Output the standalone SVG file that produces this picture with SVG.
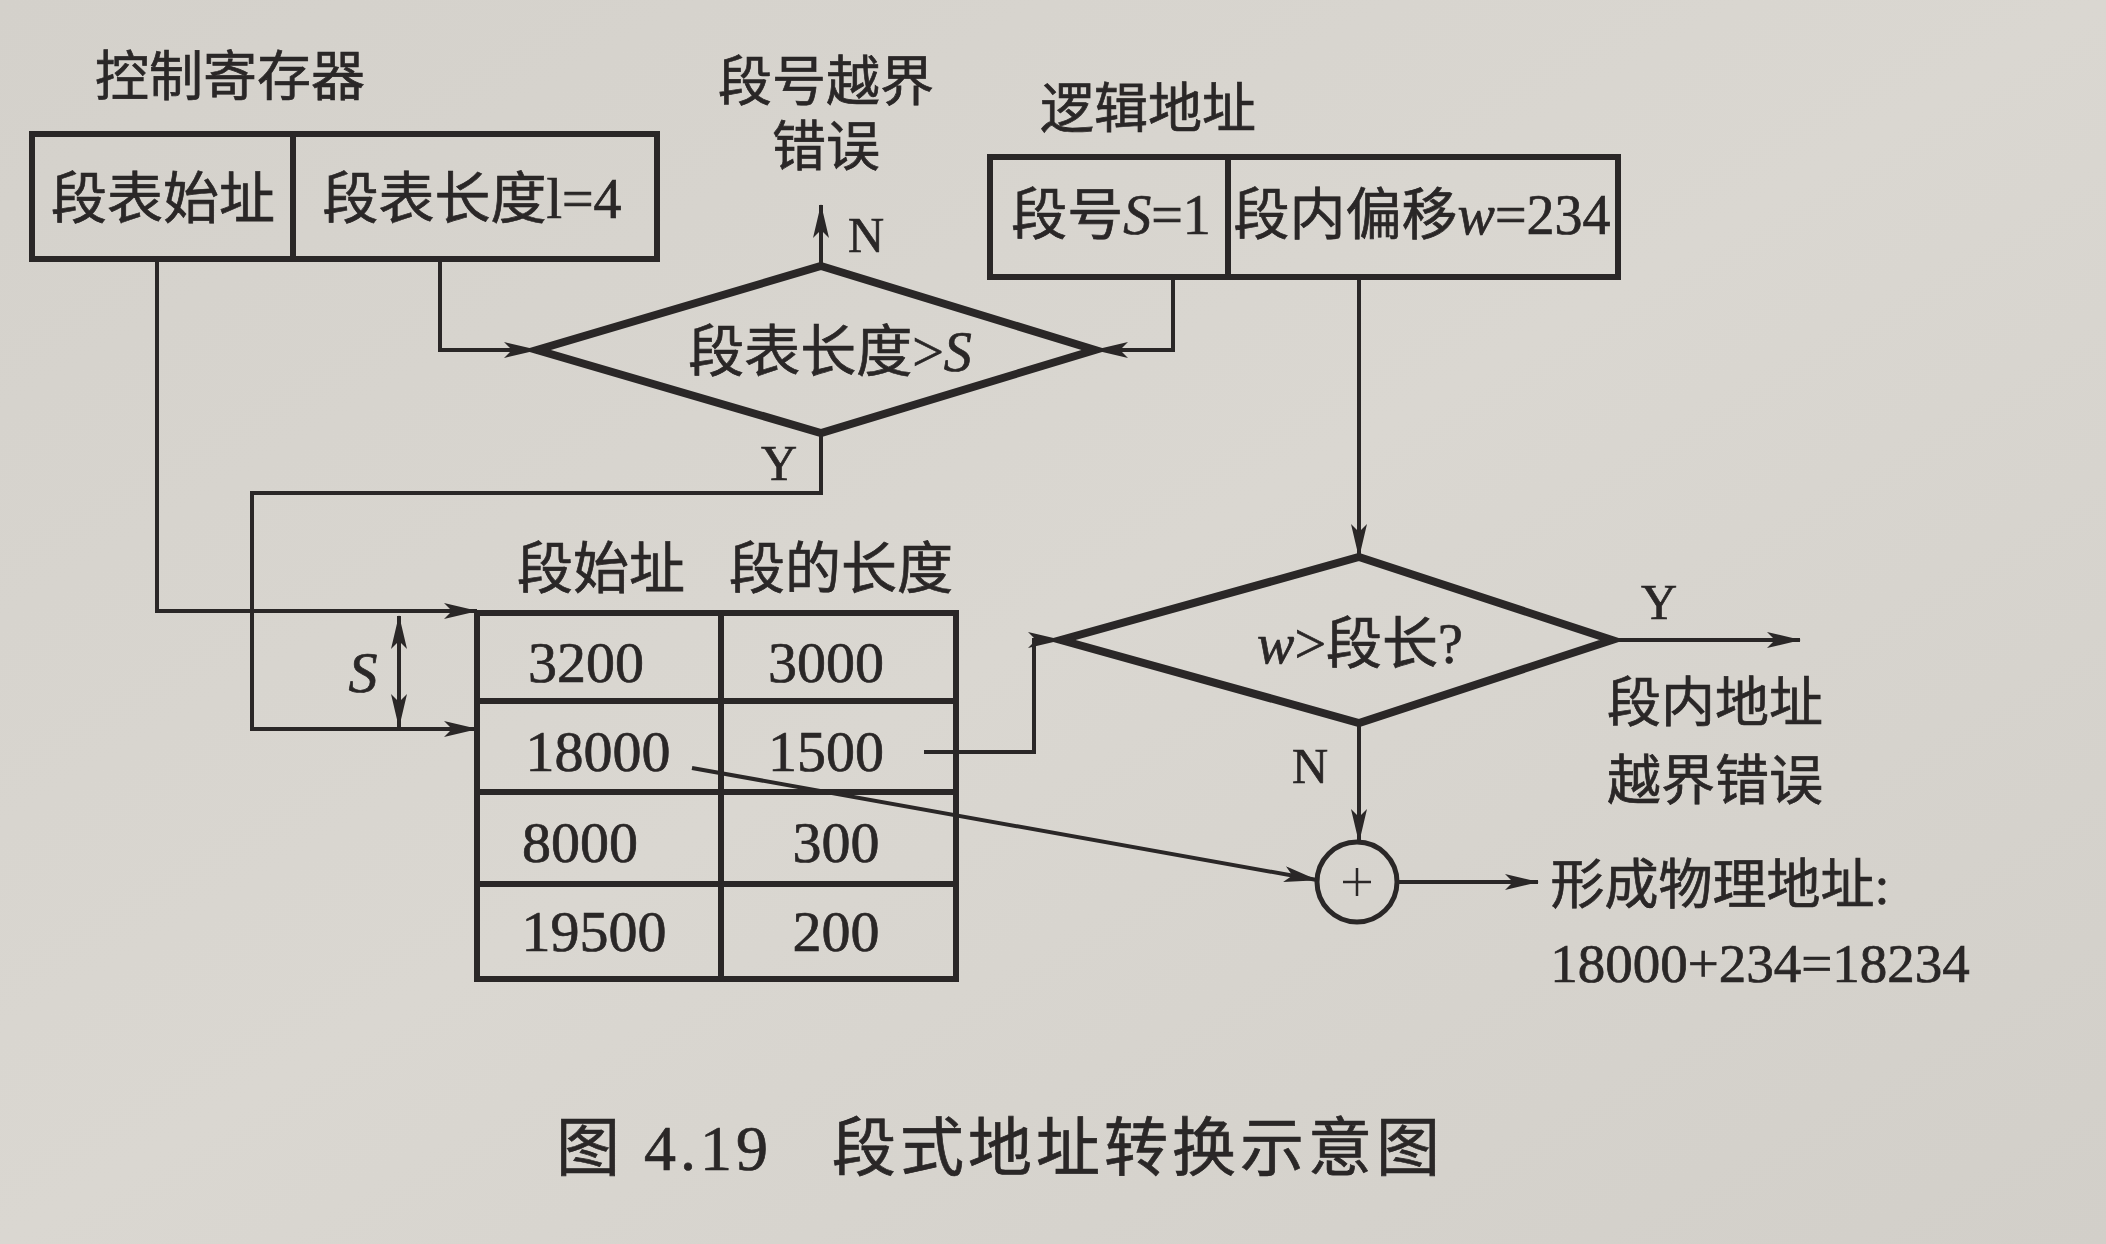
<svg xmlns="http://www.w3.org/2000/svg" width="2106" height="1244" viewBox="0 0 2106 1244">
  <defs>
    <linearGradient id="paper" x1="0" y1="0" x2="1" y2="1">
      <stop offset="0" stop-color="#d4d1cb"/>
      <stop offset="0.5" stop-color="#dad7d1"/>
      <stop offset="1" stop-color="#d2cfc9"/>
    </linearGradient>
    <marker id="arrow" viewBox="0 0 34 16" refX="33" refY="8" markerWidth="34" markerHeight="16" markerUnits="userSpaceOnUse" orient="auto-start-reverse">
      <path d="M0,0 L34,8 L0,16 L8,8 Z" fill="#2a2727"/>
    </marker>
    <style>
      .t { font-family: "Liberation Serif", "Noto Sans CJK SC", serif; fill: #2a2727; stroke: #2a2727; stroke-width: 0.7px; dominant-baseline: central; text-anchor: middle; }
      .lbl { font-size: 54px; }
      .box { font-size: 56px; }
      .num { font-size: 58px; }
      .yn { font-size: 50px; }
      .cap { font-size: 64px; letter-spacing: 4px; }
      .it { font-style: italic; }
      .frame { fill: none; stroke: #2a2727; stroke-width: 6; }
      .dia { fill: none; stroke: #2a2727; stroke-width: 8; stroke-linejoin: miter; }
      .conn { fill: none; stroke: #2a2727; stroke-width: 4; }
    </style>
  </defs>

  <rect x="0" y="0" width="2106" height="1244" fill="url(#paper)"/>

  <!-- control register -->
  <g id="control-register">
    <text class="t lbl" x="230" y="78">控制寄存器</text>
    <rect class="frame" x="32" y="134" width="625" height="125"/>
    <line class="frame" x1="293" y1="134" x2="293" y2="259"/>
    <text class="t box" x="163" y="199">段表始址</text>
    <text class="t box" x="472" y="199">段表长度l=4</text>
  </g>

  <!-- logical address -->
  <g id="logical-address">
    <text class="t lbl" x="1148" y="110">逻辑地址</text>
    <rect class="frame" x="990" y="157" width="628" height="120"/>
    <line class="frame" x1="1228" y1="157" x2="1228" y2="277"/>
    <text class="t box" x="1111" y="215">段号<tspan class="it">S</tspan>=1</text>
    <text class="t box" x="1422" y="215">段内偏移<tspan class="it">w</tspan>=234</text>
  </g>

  <!-- segment-number check -->
  <g id="check-segment-number">
    <polygon class="dia" points="821,266 1095,350 821,433 537,350"/>
    <text class="t box" x="830" y="352">段表长度&gt;<tspan class="it">S</tspan></text>
  </g>

  <g id="segment-number-error">
    <text class="t lbl" x="826" y="83">段号越界</text>
    <text class="t lbl" x="826" y="148">错误</text>
  </g>

  <!-- segment table -->
  <g id="segment-table">
    <text class="t box" x="601" y="569">段始址</text>
    <text class="t box" x="841" y="569">段的长度</text>
    <rect class="frame" x="477" y="613" width="479" height="366"/>
    <line class="frame" x1="721" y1="613" x2="721" y2="979"/>
    <line class="frame" x1="477" y1="701" x2="956" y2="701"/>
    <line class="frame" x1="477" y1="792" x2="956" y2="792"/>
    <line class="frame" x1="477" y1="884" x2="956" y2="884"/>
    <text class="t num" x="586" y="662">3200</text>
    <text class="t num" x="826" y="662">3000</text>
    <text class="t num" x="598" y="751">18000</text>
    <text class="t num" x="826" y="751">1500</text>
    <text class="t num" x="580" y="842">8000</text>
    <text class="t num" x="836" y="842">300</text>
    <text class="t num" x="594" y="931">19500</text>
    <text class="t num" x="836" y="931">200</text>
  </g>

  <!-- offset check -->
  <g id="check-offset">
    <polygon class="dia" points="1359,557 1612,640 1359,723 1061,640"/>
    <text class="t box" x="1360" y="644"><tspan class="it">w</tspan>&gt;段长?</text>
  </g>

  <g id="offset-error">
    <text class="t lbl" x="1715" y="704">段内地址</text>
    <text class="t lbl" x="1715" y="782">越界错误</text>
  </g>

  <!-- adder -->
  <g id="adder">
    <circle cx="1357" cy="882" r="40" fill="none" stroke="#2a2727" stroke-width="5"/>
    <line x1="1357" y1="868" x2="1357" y2="896" stroke="#2a2727" stroke-width="2.5"/>
    <line x1="1343" y1="882" x2="1371" y2="882" stroke="#2a2727" stroke-width="2.5"/>
  </g>

  <g id="physical-address">
    <text class="t lbl" x="1720" y="886">形成物理地址:</text>
    <text class="t num" x="1760" y="963" style="font-size:55px">18000+234=18234</text>
  </g>

  <!-- connectors -->
  <g id="connectors">
    <path class="conn" d="M157,259 V611 H477" marker-end="url(#arrow)"/>
    <path class="conn" d="M440,259 V350 H537" marker-end="url(#arrow)"/>
    <path class="conn" d="M1173,277 V350 H1095" marker-end="url(#arrow)"/>
    <path class="conn" d="M821,266 V205" marker-end="url(#arrow)"/>
    <path class="conn" d="M821,433 V493 H252 V729 H477" marker-end="url(#arrow)"/>
    <path class="conn" d="M399,616 V727" marker-start="url(#arrow)" marker-end="url(#arrow)"/>
    <path class="conn" d="M1359,277 V557" marker-end="url(#arrow)"/>
    <path class="conn" d="M1612,640 H1800" marker-end="url(#arrow)"/>
    <path class="conn" d="M1359,723 V842" marker-end="url(#arrow)"/>
    <path class="conn" d="M1397,882 H1538" marker-end="url(#arrow)"/>
    <path class="conn" d="M924,752 H1034 V640 H1061" marker-end="url(#arrow)"/>
    <path class="conn" d="M692,768 L1317,880" marker-end="url(#arrow)"/>
    <text class="t yn" x="866" y="235">N</text>
    <text class="t yn" x="779" y="463">Y</text>
    <text class="t yn" x="1659" y="602">Y</text>
    <text class="t yn" x="1310" y="766">N</text>
    <text class="t num it" x="363" y="672">S</text>
  </g>

  <!-- caption -->
  <text class="t cap" x="1000" y="1148" xml:space="preserve">图 4.19   段式地址转换示意图</text>
</svg>
